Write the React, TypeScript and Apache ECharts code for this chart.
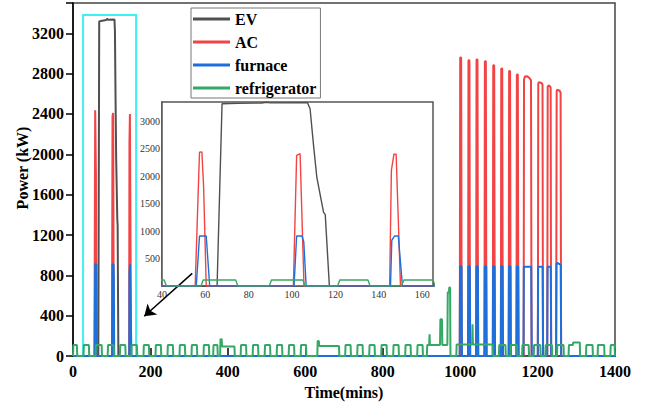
import React, { useEffect, useRef } from 'react';
import * as echarts from 'echarts';

const FONT = "'Liberation Serif', 'Times New Roman', serif";

const seriesNames = ['EV', 'AC', 'furnace', 'refrigerator'];
const seriesColors = ['#505050', '#f24444', '#1f6fdb', '#34a865'];

const xTickValues = [0, 200, 400, 600, 800, 1000, 1200, 1400];
const yTickValues = [0, 400, 800, 1200, 1600, 2000, 2400, 2800, 3200];

const evPoints: [number, number][] = [
  [0, 0], [65.4, 0], [67.7, 3318], [75, 3325], [86, 3332], [88, 3345], [90, 3334],
  [107.1, 3336], [108.3, 3227], [109.9, 2560], [111.4, 1984], [114.5, 1347],
  [115.3, 1300], [117.2, 0], [1400, 0],
];

const acPoints: [number, number][] = [
  [0, 0], [55.3, 0], [57.3, 2438], [58.4, 2440], [59.2, 1800], [60.4, 0],
  [100.6, 0], [102.1, 2378], [103.7, 2409], [105.5, 0],
  [145, 0], [145.8, 2105], [147, 2400], [148, 2400], [150, 0],
  [999.1, 0], [1000.1, 2960], [1002.6, 2960], [1004.1, 0],
  [1020.5, 0], [1021.5, 2933], [1024, 2933], [1025.5, 0],
  [1041.3, 0], [1042.3, 2940], [1044.8, 2940], [1046.3, 0],
  [1062.9, 0], [1063.9, 2923], [1066.4, 2923], [1067.9, 0],
  [1084.5, 0], [1085.5, 2884], [1088, 2884], [1089.5, 0],
  [1105.2, 0], [1106.2, 2851], [1108.7, 2851], [1110.2, 0],
  [1125.5, 0], [1126.5, 2825], [1129, 2825], [1130.5, 0],
  [1145.5, 0], [1146.5, 2792], [1149, 2792], [1150.5, 0],
  [1164, 0], [1165, 2740], [1167, 2772], [1172, 2775], [1178, 2760], [1183, 2735], [1184.5, 0],
  [1200.8, 0], [1201.8, 2705], [1204, 2715], [1211, 2705], [1212.8, 2690], [1214, 0],
  [1225, 0], [1226.2, 2670], [1228, 2682], [1232, 2675], [1233.8, 2660], [1235, 0],
  [1248, 0], [1249.3, 2625], [1251, 2640], [1257, 2630], [1259.5, 2610], [1260.8, 0],
  [1400, 0],
];

const furnacePoints: [number, number][] = [
  [0, 0], [55.8, 0], [57.3, 911], [60.4, 911], [62, 0],
  [100.9, 0], [102.1, 911], [104.6, 911], [105.4, 800], [106.5, 0],
  [145.4, 0], [146, 833], [147.3, 911], [149, 911], [150.9, 0],
  [998.8, 0], [999.8, 890], [1003.6, 890], [1004.8, 0],
  [1020.2, 0], [1021.2, 890], [1025, 890], [1026.2, 0],
  [1041, 0], [1042, 890], [1045.8, 890], [1047, 0],
  [1062.6, 0], [1063.6, 890], [1067.4, 890], [1068.6, 0],
  [1084.2, 0], [1085.2, 890], [1089, 890], [1090.2, 0],
  [1104.9, 0], [1105.9, 890], [1109.7, 890], [1110.9, 0],
  [1125.2, 0], [1126.2, 890], [1130, 890], [1131.2, 0],
  [1145.2, 0], [1146.2, 890], [1150, 890], [1151.2, 0],
  [1163.6, 0], [1164.6, 885], [1183.5, 885], [1185, 0],
  [1200.5, 0], [1201.5, 885], [1213, 885], [1214.3, 0],
  [1224.8, 0], [1225.8, 885], [1234, 885], [1235.3, 0],
  [1247.8, 0], [1248.8, 915], [1251, 925], [1259.8, 905], [1261, 0],
  [1400, 0],
];

// refrigerator: regular on-cycles (start, end) at a constant level
const fridgeLevel = 110;
const fridgeOn: [number, number][] = [
  [0, 11], [27, 42], [58, 75], [89.5, 106], [121, 136], [150.5, 166], [182, 197],
  [213, 228], [244, 259], [275, 290], [306, 321], [337, 352], [362, 374],
  [433, 448], [464, 479], [495, 510], [526, 541], [557, 572], [588, 603],
  [703, 718], [734, 749], [765, 780], [796, 811], [827, 842], [858, 873], [889, 904],
  [1100, 1118], [1130, 1148], [1160, 1178], [1190, 1208], [1220, 1238], [1250, 1268],
  [1325, 1343], [1355, 1373], [1388, 1400],
];
// refrigerator: irregular stretches read point by point
const fridgeEvents: [number, number][] = [
  [380, 0], [381, 168], [384, 168], [385, 95], [417, 95], [418, 0],
  [631, 0], [632, 150], [635, 150], [636, 100], [687, 100], [688, 0],
  [914, 0], [915, 110], [920, 110], [921, 217], [922, 110], [948, 110], [949, 365],
  [953, 365], [954, 110], [967, 110], [968, 632], [971, 632], [972, 681], [974, 681], [975, 0],
  [990, 0], [991, 115], [1031, 115], [1032, 316], [1033, 115], [1084, 115], [1085, 0],
  [1280, 0], [1281, 110], [1291, 110], [1292, 135], [1309, 135], [1310, 0],
];

function buildFridge(): [number, number][] {
  const pts: [number, number][] = [];
  fridgeOn.forEach(([s, e]) => {
    pts.push([s, 0], [s + 1, fridgeLevel], [e - 1, fridgeLevel], [e, 0]);
  });
  fridgeEvents.forEach((p) => pts.push(p));
  pts.sort((a, b) => a[0] - b[0]);
  return pts;
}

const fridgePoints = buildFridge();
const allData = [evPoints, acPoints, furnacePoints, fridgePoints];

export default function App() {
  const ref = useRef<HTMLDivElement>(null);
  useEffect(() => {
    document.body.style.margin = '0';
    if (!ref.current) return;
    const chart = echarts.init(ref.current, null, { renderer: 'svg' });

    const mainSeries = seriesNames.map((name, i) => ({
      name,
      type: 'line',
      xAxisIndex: 0,
      yAxisIndex: 0,
      data: allData[i],
      showSymbol: false,
      symbol: 'none',
      lineStyle: { color: seriesColors[i], width: 2 },
      itemStyle: { color: seriesColors[i] },
      z: 2,
    }));
    const insetSeries = seriesNames.map((name, i) => ({
      name,
      type: 'line',
      xAxisIndex: 1,
      yAxisIndex: 1,
      data: allData[i],
      showSymbol: false,
      symbol: 'none',
      clip: true,
      lineStyle: { color: seriesColors[i], width: 1.4 },
      itemStyle: { color: seriesColors[i] },
      z: 5,
    }));

    const option: any = {
      animation: false,
      textStyle: { fontFamily: FONT },
      legend: {
        data: seriesNames,
        orient: 'vertical',
        left: 191,
        top: 8,
        icon: 'rect',
        itemWidth: 37,
        itemHeight: 3,
        itemGap: 7,
        padding: [3, 4, 2, 2],
        borderColor: '#777',
        borderWidth: 1,
        backgroundColor: '#fff',
        textStyle: { fontFamily: FONT, fontWeight: 'bold', fontSize: 16, color: '#000', lineHeight: 16 },
      },
      grid: [
        { left: 73, right: 40, top: 3, bottom: 48, show: true, borderColor: '#444', borderWidth: 1.5, backgroundColor: 'transparent' },
        { left: 162, right: 222, top: 102, bottom: 119, show: true, borderColor: '#555', borderWidth: 1.5, backgroundColor: '#fff', z: 3 },
      ],
      xAxis: [
        {
          type: 'value', gridIndex: 0, min: 0, max: 1400, interval: 200,
          name: 'Time(mins)', nameLocation: 'middle', nameGap: 22,
          nameTextStyle: { fontFamily: FONT, fontWeight: 'bold', fontSize: 16, color: '#000' },
          axisLine: { lineStyle: { color: '#000', width: 1.5 } },
          axisTick: { inside: true, length: 8, lineStyle: { color: '#000', width: 1.5 } },
          axisLabel: {
            fontFamily: FONT, fontWeight: 'bold', fontSize: 16, color: '#000', margin: 7,
            formatter: (v: number) => (xTickValues.includes(v) ? String(v) : ''),
          },
          splitLine: { show: false },
        },
        {
          type: 'value', gridIndex: 1, min: 40, max: 165, interval: 20,
          axisLine: { lineStyle: { color: '#444', width: 1.5 } },
          axisTick: { inside: true, length: 4, lineStyle: { color: '#333' } },
          axisLabel: {
            fontFamily: FONT, fontSize: 10, color: '#333', margin: 3,
            formatter: (v: number) => (v > 160 ? '' : String(v)),
          },
          splitLine: { show: false },
        },
      ],
      yAxis: [
        {
          type: 'value', gridIndex: 0, min: 0, max: 3500, interval: 400,
          axisLine: { show: true, lineStyle: { color: '#000', width: 1.5 } },
          axisTick: { show: true, length: 7, lineStyle: { color: '#000', width: 1.5 } },
          axisLabel: {
            fontFamily: FONT, fontWeight: 'bold', fontSize: 16, color: '#000', margin: 9,
            formatter: (v: number) => (yTickValues.includes(v) ? String(v) : ''),
          },
          splitLine: { show: false },
        },
        {
          type: 'value', gridIndex: 1, min: 0, max: 3350, interval: 500,
          axisLine: { show: true, lineStyle: { color: '#444', width: 1.5 } },
          axisTick: { show: true, inside: true, length: 4, lineStyle: { color: '#333' } },
          axisLabel: {
            fontFamily: FONT, fontSize: 10, color: '#333', margin: 2,
            formatter: (v: number) => (v === 0 || v > 3000 ? '' : String(v)),
          },
          splitLine: { show: false },
        },
      ],
      graphic: [
        {
          type: 'text', x: 22, y: 168, rotation: Math.PI / 2,
          style: { text: 'Power (kW)', fontFamily: FONT, fontWeight: 'bold', fontSize: 16, fill: '#000', align: 'center', verticalAlign: 'middle' },
        },
      ],
      series: [
        ...mainSeries,
        ...insetSeries,
        {
          type: 'line',
          xAxisIndex: 0,
          yAxisIndex: 0,
          data: [],
          z: 20,
          markArea: {
            silent: true,
            itemStyle: { color: 'rgba(0,0,0,0)', borderColor: '#3ff0f0', borderWidth: 2 },
            label: { show: false },
            data: [[{ coord: [26, 0] }, { coord: [163, 3380] }]],
          },
          markLine: {
            silent: true,
            symbol: ['none', 'arrow'],
            symbolSize: 11,
            label: { show: false },
            lineStyle: { color: '#000', width: 1.5, type: 'solid' },
            data: [[{ coord: [308, 820] }, { coord: [184, 395] }]],
          },
        },
      ],
    };
    chart.setOption(option);
    return () => chart.dispose();
  }, []);
  return <div ref={ref} style={{ width: 655, height: 405 }} />;
}
